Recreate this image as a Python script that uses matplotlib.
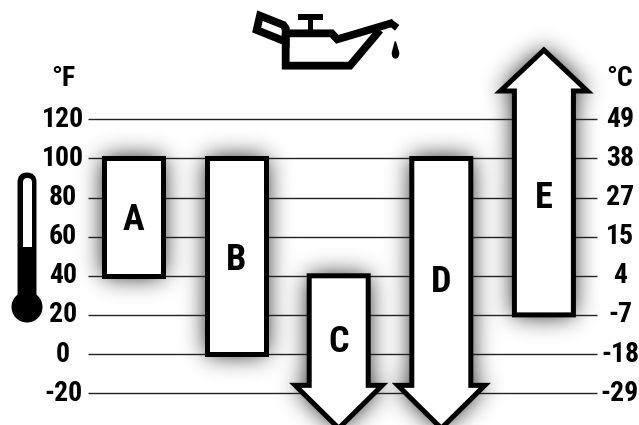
import numpy as np
import matplotlib

matplotlib.use("Agg")
import matplotlib.pyplot as plt
from matplotlib.path import Path
from matplotlib.patches import Circle, FancyBboxPatch, PathPatch, Polygon, Rectangle

categories = ["A", "B", "C", "D", "E"]
lows = [40, 0, -38, -38, 20]
highs = [100, 100, 40, 100, 155.5]
arrows = [None, None, "down", "down", "up"]
temps_f = [120, 100, 80, 60, 40, 20, 0, -20]
labels_f = ["120", "100", "80", "60", "40", "20", "0", "-20"]
labels_c = ["49", "38", "27", "15", "4", "-7", "-18", "-29"]
label_y = [68.5, 48, 6.2, 36.9, 79.8]

W, H = 639, 425
plt.rcParams["font.family"] = ["Roboto Condensed", "DejaVu Sans"]
plt.rcParams["font.weight"] = "bold"

fig = plt.figure(figsize=(W / 100, H / 100), dpi=100)
ax = fig.add_axes([0, 0, 1, 1], zorder=1)
ax.set_xlim(-133.5 / 102.6, (W - 133.5) / 102.6)
ax.set_ylim((354 - H) / 1.955, 354 / 1.955)
ax.axis("off")

half = 0.2875
head_half = 0.424
head_len = 41 / 1.955


def outline(i):
    x = i
    lo, hi = lows[i], highs[i]
    if arrows[i] == "up":
        base = hi - head_len
        return [(x - half, lo), (x + half, lo), (x + half, base), (x + head_half, base),
                (x, hi), (x - head_half, base), (x - half, base)]
    if arrows[i] == "down":
        base = lo + head_len + 1
        return [(x - half, hi), (x + half, hi), (x + half, base), (x + head_half, base),
                (x, lo), (x - head_half, base), (x - half, base)]
    return [(x - half, lo), (x + half, lo), (x + half, hi), (x - half, hi)]


def blur(a, sigma):
    r = int(sigma * 3)
    k = np.exp(-0.5 * (np.arange(-r, r + 1) / sigma) ** 2)
    k /= k.sum()
    a = np.apply_along_axis(lambda v: np.convolve(v, k, mode="same"), 0, a)
    return np.apply_along_axis(lambda v: np.convolve(v, k, mode="same"), 1, a)


# soft shadow behind every shape, on its own axes under the chart
pad = 40
gx, gy = np.meshgrid(np.arange(-pad, W + pad) + 0.5, np.arange(-pad, H + pad) + 0.5)
grid = np.column_stack([gx.ravel(), gy.ravel()])
shade = np.ones(gx.shape)
for i in range(len(categories)):
    path = Path(ax.transData.transform(outline(i)))
    mask = path.contains_points(grid).reshape(gx.shape).astype(float)
    shade *= 1 - 0.95 * blur(mask, 12)
shade = shade[pad:-pad, pad:-pad]
under = fig.add_axes([0, 0, 1, 1], zorder=0)
under.imshow(shade, cmap="gray", vmin=0, vmax=1, origin="lower", aspect="auto")
under.axis("off")


def x_of(px):
    return (px - 133.5) / 102.6


# temperature lines and both scales
ax.hlines(temps_f, x_of(88), x_of(596.5), color="#222222", lw=1.0, zorder=2)
for t, lf, lc in zip(temps_f, labels_f, labels_c):
    ax.text(x_of(63), t, lf, ha="center", va="center", fontsize=20, zorder=5)
    ax.text(x_of(620), t, lc, ha="center", va="center", fontsize=20, zorder=5)
top = (354 - 78) / 1.955
ax.text(x_of(63), top, "°F", ha="center", va="center", fontsize=20)
ax.text(x_of(620), top, "°C", ha="center", va="center", fontsize=20)

for i, name in enumerate(categories):
    ax.add_patch(Polygon(outline(i), closed=True, fc="white", ec="black", lw=3.6,
                         joinstyle="miter", zorder=3))
    ax.text(i, label_y[i], name, ha="center", va="center", fontsize=26, zorder=5)

# pixel layer for the two little icons
deco = fig.add_axes([0, 0, 1, 1], zorder=10)
deco.set_xlim(0, W)
deco.set_ylim(H, 0)
deco.axis("off")

# thermometer
deco.add_patch(FancyBboxPatch((21, 176), 12, 125, boxstyle="round,pad=0,rounding_size=6",
                              fc="black", ec="black", lw=5))
deco.add_patch(FancyBboxPatch((23, 178), 9, 80, boxstyle="round,pad=0,rounding_size=4.5",
                              fc="white", ec="none"))
deco.add_patch(Rectangle((20, 247), 16, 60, fc="black", ec="none"))
deco.add_patch(Circle((27, 307), 15.5, fc="black", ec="none"))


# oil can, traced in zoom coordinates (3x, origin 220,0)
def zc(pts):
    return [(220 + x / 3, y / 3) for x, y in pts]


lw = 5.6
handle = zc([(120, 47), (190, 75), (197, 85), (197, 125), (110, 90)])
deco.add_patch(Polygon(handle, closed=True, fc="none", ec="black", lw=lw, joinstyle="miter"))
body = zc([(197, 100), (335, 100), (352, 118), (520, 68)])
deco.plot(*zip(*body), color="black", lw=lw, solid_joinstyle="miter", solid_capstyle="butt")
lower = zc([(197, 100), (197, 197), (390, 197), (480, 90)])
deco.plot(*zip(*lower), color="black", lw=lw, solid_joinstyle="miter", solid_capstyle="butt")
deco.add_patch(Polygon(zc([(515, 58), (538, 75), (525, 92), (505, 75)]), fc="black", ec="none"))
deco.add_patch(Rectangle((220 + 235 / 3, 42 / 3), 75 / 3, 18 / 3, fc="black", ec="none"))
deco.add_patch(Rectangle((220 + 265 / 3, 60 / 3), 15 / 3, 30 / 3, fc="black", ec="none"))
drop = Path(zc([(524, 124), (515, 158), (515, 176), (526, 176), (538, 176), (538, 158), (528, 124)]),
            [Path.MOVETO, Path.LINETO, Path.CURVE3, Path.CURVE3, Path.CURVE3, Path.CURVE3, Path.LINETO])
deco.add_patch(PathPatch(drop, fc="black", ec="none"))
deco.set_xlim(0, W)
deco.set_ylim(H, 0)

fig.savefig("out.png", dpi=100)
